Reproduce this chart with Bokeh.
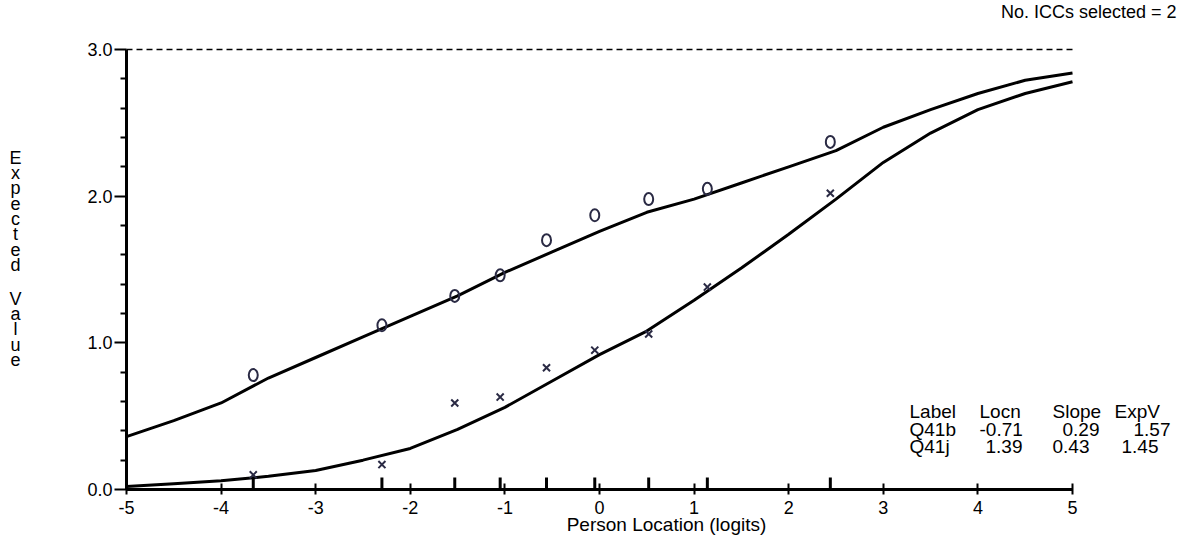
from bokeh.plotting import figure
from bokeh.models import Range1d, FixedTicker, PrintfTickFormatter, Label
from bokeh.embed import file_html
from bokeh.resources import INLINE

# ---------------- data ----------------
curve_x = [-5, -4.5, -4, -3.5, -3, -2.5, -2, -1.5, -1, -0.5, 0, 0.5, 1, 1.5, 2, 2.5, 3, 3.5, 4, 4.5, 5]
q41b_curve = [0.36, 0.47, 0.59, 0.76, 0.90, 1.04, 1.18, 1.32, 1.48, 1.62, 1.76, 1.89, 1.98, 2.09, 2.20, 2.31, 2.47, 2.59, 2.70, 2.79, 2.84]
q41j_curve = [0.02, 0.04, 0.06, 0.09, 0.13, 0.20, 0.28, 0.41, 0.56, 0.74, 0.92, 1.08, 1.29, 1.51, 1.74, 1.98, 2.23, 2.43, 2.59, 2.70, 2.78]

class_x = [-3.66, -2.30, -1.53, -1.05, -0.56, -0.05, 0.52, 1.14, 2.44]
q41b_obs = [0.78, 1.12, 1.32, 1.46, 1.70, 1.87, 1.98, 2.05, 2.37]
q41j_obs = [0.10, 0.17, 0.59, 0.63, 0.83, 0.95, 1.06, 1.38, 2.02]

x_ticks = [-5, -4, -3, -2, -1, 0, 1, 2, 3, 4, 5]
x_tick_labels = ["-5", "-4", "-3", "-2", "-1", "0", "1", "2", "3", "4", "5"]
y_ticks = [0, 1, 2, 3]
y_minor_ticks = [0.2, 0.4, 0.6, 0.8, 1.2, 1.4, 1.6, 1.8, 2.2, 2.4, 2.6, 2.8]
max_score = 3

table_header = ["Label", "Locn", "Slope", "ExpV"]
item_labels = ["Q41b", "Q41j"]
item_locn = [-0.71, 1.39]
item_slope = [0.29, 0.43]
item_expv = [1.57, 1.45]

x_title = "Person Location (logits)"
y_title = "Expected Value"
top_note = "No. ICCs selected = 2"

# ---------------- layout ----------------
W, H = 1177, 536
FONT = "Liberation Sans"
FS = "19px"
TICK_FS = "18px"
PX_L, PX_R, PX_T, PX_B = 126, 1072, 49, 489   # pixel positions of x=-5, x=5, y=3, y=0

XMIN, XMAX = x_ticks[0], x_ticks[-1]
sx = (PX_R - PX_L) / (XMAX - XMIN)
sy = (PX_B - PX_T) / max_score


def X(px):
    return XMIN + (px - PX_L) / sx


def Y(py):
    return (PX_B - py) / sy


p = figure(width=W, height=H, output_backend="svg", toolbar_location=None, title=None,
           x_range=Range1d(X(0), X(W)), y_range=Range1d(Y(H), Y(0)),
           min_border=0, min_border_left=0, min_border_right=0,
           min_border_top=0, min_border_bottom=0)
p.outline_line_color = None
p.xgrid.visible = False
p.ygrid.visible = False
p.background_fill_color = "white"
p.border_fill_color = "white"

# axes (crossing at the data origin of the chart)
xa = p.xaxis[0]
xa.fixed_location = 0
xa.bounds = (XMIN, XMAX)
xa.ticker = FixedTicker(ticks=x_ticks)
xa.major_label_overrides = {t: s for t, s in zip(x_ticks, x_tick_labels)}
xa.axis_line_width = 3
xa.major_tick_line_width = 2
xa.major_tick_in = 6
xa.major_tick_out = 5
xa.minor_tick_line_color = None
xa.major_label_standoff = 6
xa.major_label_text_font = FONT
xa.major_label_text_font_size = TICK_FS
xa.major_label_text_color = "black"
xa.axis_line_color = "black"
xa.major_tick_line_color = "black"

ya = p.yaxis[0]
ya.fixed_location = XMIN
ya.bounds = (0, max_score)
ya.ticker = FixedTicker(ticks=y_ticks, minor_ticks=y_minor_ticks)
ya.formatter = PrintfTickFormatter(format="%.1f")
ya.axis_line_width = 3
ya.major_tick_line_width = 2
ya.minor_tick_line_width = 2
ya.major_tick_in = 0
ya.major_tick_out = 12
ya.minor_tick_in = 0
ya.minor_tick_out = 6
ya.major_label_standoff = 2
ya.major_label_text_font = FONT
ya.major_label_text_font_size = TICK_FS
ya.major_label_text_color = "black"
ya.axis_line_color = "black"
ya.major_tick_line_color = "black"
ya.minor_tick_line_color = "black"

# dashed max-score line
p.line(x=[XMIN, XMAX], y=[max_score, max_score], line_color="black",
       line_dash="6 4", line_width=1.5)

# class-interval ticks on the x axis
p.ray(x=class_x, y=[0] * len(class_x), length=12, length_units="screen",
      angle=90, angle_units="deg", line_color="black", line_width=3)

# expected value curves
p.line(curve_x, q41b_curve, line_color="black", line_width=3)
p.line(curve_x, q41j_curve, line_color="black", line_width=3)

# observed means
p.ellipse(x=class_x, y=q41b_obs, width=9, height=12, width_units="screen",
          height_units="screen", fill_color=None, line_color="#2a2a44", line_width=2)
p.scatter(x=class_x, y=q41j_obs, marker="x", size=10, line_color="#2a2a44", line_width=2)


def lab(px, py, text, align="left", baseline="middle", size=FS):
    p.add_layout(Label(x=X(px), y=Y(py), text=text, text_font=FONT, text_font_size=size,
                       text_color="black", text_align=align, text_baseline=baseline))


# titles
lab(666, 524, x_title, align="center")
lab(1176, 11, top_note, align="right", size=TICK_FS)
yy = 157
for ch in y_title:
    if ch != " ":
        lab(15, yy, ch, align="center", size=TICK_FS)
        yy += 15.3
    else:
        yy += 18.7

# table
header_px = [909, 979, 1052, 1114]
for t, px in zip(table_header, header_px):
    lab(px, 411, t)
row_px = [[909, 979, 1062, 1133], [909, 985, 1052, 1121]]
row_py = [429, 446]
for i in range(len(item_labels)):
    cells = [item_labels[i], "%.2f" % item_locn[i], "%.2f" % item_slope[i], "%.2f" % item_expv[i]]
    for c, px in zip(cells, row_px[i]):
        lab(px, row_py[i], c)

open("out.html", "w").write(file_html(p, INLINE))
